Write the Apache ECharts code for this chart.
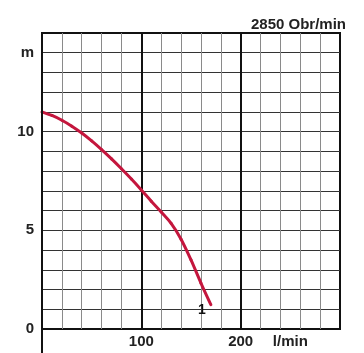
<!DOCTYPE html>
<html>
<head>
<meta charset="utf-8">
<script src="https://cdn.jsdelivr.net/npm/echarts@6/dist/echarts.min.js"></script>
<style>
  html, body { margin: 0; padding: 0; background: #fff; }
  #chart { width: 364px; height: 353px; }
</style>
</head>
<body>
<div id="chart"></div>
<script>
// Pump curve: delivery head (m) against flow rate (l/min)
const flow = [0, 10, 20, 30, 40, 50, 60, 70, 80, 90, 100, 110, 120, 130, 140, 150, 160, 170];
const head = [11, 10.82, 10.58, 10.28, 9.93, 9.53, 9.09, 8.62, 8.12, 7.6, 7.05, 6.48, 5.93, 5.35, 4.55, 3.5, 2.33, 1.23];
const flowLabels = { 100: '100', 200: '200', 250: 'l/min' };
const headLabels = { 0: '0', 5: '5', 10: '10', 14: 'm' };
const speedText = '2850 Obr/min';
const curveName = '1';

const FONT = '"Liberation Sans", Arial, sans-serif';
const CURVE_COLOR = '#c4163d';
const chart = echarts.init(document.getElementById('chart'), null, { renderer: 'canvas' });

const points = flow.map((x, i) => [x, head[i]]);

// Draws the whole curve once, as Catmull-Rom segments through the data points
function renderCurve(params, api) {
  if (params.dataIndex !== 0) return null;
  const px = points.map(p => api.coord(p));
  const n = px.length;
  const children = [];
  for (let i = 0; i < n - 1; i++) {
    const p0 = px[Math.max(i - 1, 0)];
    const p1 = px[i];
    const p2 = px[i + 1];
    const p3 = px[Math.min(i + 2, n - 1)];
    children.push({
      type: 'bezierCurve',
      shape: {
        x1: p1[0], y1: p1[1],
        cpx1: p1[0] + (p2[0] - p0[0]) / 6, cpy1: p1[1] + (p2[1] - p0[1]) / 6,
        cpx2: p2[0] - (p3[0] - p1[0]) / 6, cpy2: p2[1] - (p3[1] - p1[1]) / 6,
        x2: p2[0], y2: p2[1]
      },
      style: { stroke: CURVE_COLOR, lineWidth: 3, fill: null, lineCap: 'round' }
    });
  }
  const end = px[n - 1];
  children.push({
    type: 'text',
    style: {
      text: curveName, x: end[0] - 9, y: end[1] + 5,
      align: 'center', verticalAlign: 'middle',
      font: 'bold 14px ' + FONT, fill: '#111'
    }
  });
  return { type: 'group', children };
}

chart.setOption({
  animation: false,
  backgroundColor: '#fff',
  textStyle: { fontFamily: FONT },
  title: {
    text: speedText,
    right: 13, top: 12,
    textStyle: { fontFamily: FONT, fontSize: 15, fontWeight: 'bold', color: '#222' }
  },
  grid: {
    left: 42, right: 24, top: 33, bottom: 24,
    show: true, borderColor: '#111', borderWidth: 2, backgroundColor: 'transparent'
  },
  xAxis: [
    {
      type: 'value', min: 0, max: 300, interval: 20,
      axisLine: { show: false }, axisTick: { show: false }, axisLabel: { show: false },
      splitLine: { show: true, showMinLine: false, showMaxLine: false,
                   lineStyle: { color: '#8a8a8a', width: 1 } }
    },
    {
      type: 'value', min: 0, max: 300, interval: 50, position: 'bottom',
      axisLine: { show: false }, axisTick: { show: false },
      axisLabel: {
        show: true, margin: 5, fontSize: 15, fontWeight: 'bold', color: '#222', fontFamily: FONT,
        formatter: v => flowLabels[v] || ''
      },
      splitLine: { show: true, showMinLine: false, showMaxLine: false,
                   lineStyle: { color: ['rgba(0,0,0,0)', '#111'], width: 2 } }
    }
  ],
  yAxis: {
    type: 'value', min: 0, max: 15, interval: 1,
    axisLine: { show: false }, axisTick: { show: false },
    axisLabel: {
      show: true, margin: 8, fontSize: 15, fontWeight: 'bold', color: '#222', fontFamily: FONT,
      formatter: v => headLabels[v] || ''
    },
    splitLine: { show: true, showMinLine: false, showMaxLine: false,
                 lineStyle: { color: '#333', width: 1 } }
  },
  series: [{
    type: 'custom',
    name: curveName,
    xAxisIndex: 0,
    yAxisIndex: 0,
    data: points,
    renderItem: renderCurve,
    z: 5
  }]
});

// Extend the head axis line below the zero line to the bottom edge
const origin = chart.convertToPixel({ xAxisIndex: 0, yAxisIndex: 0 }, [0, 0]);
const topPt = chart.convertToPixel({ xAxisIndex: 0, yAxisIndex: 0 }, [0, 15]);
chart.setOption({
  graphic: [{
    type: 'line', z: 10,
    shape: { x1: origin[0], y1: topPt[1], x2: origin[0], y2: chart.getHeight() },
    style: { stroke: '#111', lineWidth: 2 }
  }]
});
</script>
</body>
</html>
